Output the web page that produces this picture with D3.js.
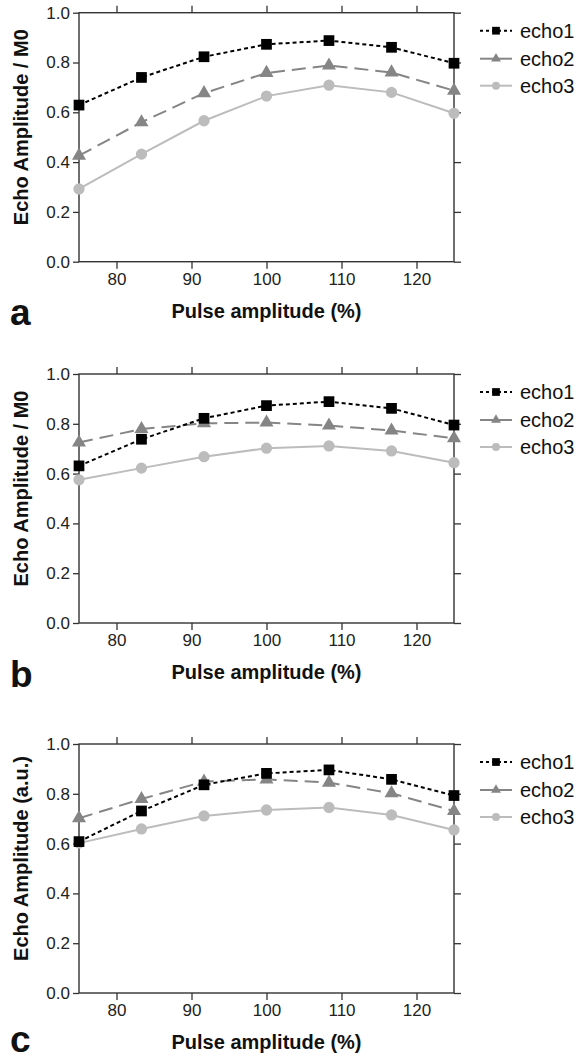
<!DOCTYPE html>
<html>
<head>
<meta charset="utf-8">
<script src="https://cdn.jsdelivr.net/npm/d3@7"></script>
<style>
  body { margin: 0; background: #fff; }
  svg { display: block; font-family: "Liberation Sans", Arial, Helvetica, sans-serif; }
</style>
</head>
<body>
<svg id="chart" width="580" height="1059"></svg>
<script>
// pulse amplitude (%)
var pulse = [75, 83.33, 91.67, 100, 108.33, 116.67, 125];
var xTicks = [80, 90, 100, 110, 120];
var yTicks = [0, 0.2, 0.4, 0.6, 0.8, 1.0];
var seriesNames = ['echo1', 'echo2', 'echo3'];

// panel a
var echo1A = [0.629, 0.740, 0.823, 0.873, 0.888, 0.861, 0.797];
var echo2A = [0.426, 0.560, 0.677, 0.758, 0.788, 0.760, 0.687];
var echo3A = [0.292, 0.432, 0.566, 0.665, 0.709, 0.680, 0.596];
// panel b
var echo1B = [0.631, 0.738, 0.822, 0.873, 0.889, 0.862, 0.795];
var echo2B = [0.725, 0.779, 0.802, 0.805, 0.793, 0.773, 0.742];
var echo3B = [0.575, 0.622, 0.668, 0.702, 0.711, 0.691, 0.644];
// panel c
var echo1C = [0.608, 0.731, 0.836, 0.882, 0.896, 0.858, 0.793];
var echo2C = [0.702, 0.779, 0.849, 0.858, 0.845, 0.802, 0.731];
var echo3C = [0.602, 0.659, 0.711, 0.735, 0.745, 0.715, 0.655];

var panels = [
  { letter: 'a', top: 12.7, letterDy: 63, ytitle: 'Echo Amplitude / M0', series: [echo1A, echo2A, echo3A] },
  { letter: 'b', top: 374, letterDy: 64, ytitle: 'Echo Amplitude / M0', series: [echo1B, echo2B, echo3B] },
  { letter: 'c', top: 744, letterDy: 59, ytitle: 'Echo Amplitude (a.u.)', series: [echo1C, echo2C, echo3C] }
];

var styles = [
  { color: '#000', dash: '4,3', marker: d3.symbolSquare, size: 115, lsize: 60 },
  { color: '#858585', dash: '14,7', marker: d3.symbolTriangle, size: 85, lsize: 42 },
  { color: '#bcbcbc', dash: null, marker: d3.symbolCircle, size: 100, lsize: 50 }
];

var left = 79, right = 454, plotH = 249;
var frameColor = '#333';
var svg = d3.select('#chart');

var x = d3.scaleLinear().domain([75, 125]).range([left, right]);

panels.forEach(function(p) {
  var y = d3.scaleLinear().domain([0, 1]).range([p.top + plotH, p.top]);
  var g = svg.append('g');

  // axes, ticks outward on all four sides
  var bottom = g.append('g').attr('transform', 'translate(0,' + (p.top + plotH) + ')')
    .call(d3.axisBottom(x).tickValues(xTicks).tickSize(7).tickSizeOuter(0).tickPadding(4));
  var top = g.append('g').attr('transform', 'translate(0,' + p.top + ')')
    .call(d3.axisTop(x).tickValues(xTicks).tickSize(7).tickSizeOuter(0).tickFormat(''));
  var lft = g.append('g').attr('transform', 'translate(' + left + ',0)')
    .call(d3.axisLeft(y).tickValues(yTicks).tickSize(6).tickSizeOuter(0).tickPadding(3).tickFormat(d3.format('.1f')));
  var rgt = g.append('g').attr('transform', 'translate(' + right + ',0)')
    .call(d3.axisRight(y).tickValues(yTicks).tickSize(7).tickSizeOuter(0).tickFormat(''));

  [bottom, top, lft, rgt].forEach(function(a) {
    a.select('.domain').remove();
    a.selectAll('line').attr('stroke', frameColor).attr('stroke-width', 1.3);
    a.selectAll('text').attr('font-size', 17).attr('fill', '#222')
      .attr('font-family', '"Liberation Sans", Arial, sans-serif');
  });

  g.append('rect')
    .attr('x', left).attr('y', p.top)
    .attr('width', right - left).attr('height', plotH)
    .attr('fill', 'none').attr('stroke', frameColor).attr('stroke-width', 1.4);

  // titles
  g.append('text')
    .attr('x', (left + right) / 2).attr('y', p.top + plotH + 56)
    .attr('text-anchor', 'middle').attr('font-size', 20).attr('font-weight', 'bold')
    .attr('fill', '#111')
    .text('Pulse amplitude (%)');

  var cy = p.top + plotH / 2 - 10;
  g.append('text')
    .attr('transform', 'translate(28,' + cy + ') rotate(-90)')
    .attr('text-anchor', 'middle').attr('font-size', 20).attr('font-weight', 'bold')
    .attr('fill', '#111')
    .text(p.ytitle);

  g.append('text')
    .attr('x', 10).attr('y', p.top + plotH + p.letterDy)
    .attr('font-size', 37).attr('font-weight', 'bold').attr('fill', '#111')
    .text(p.letter);

  // series, drawn echo3 first so echo1 sits on top
  var line = d3.line().x(function(d) { return x(d[0]); }).y(function(d) { return y(d[1]); });
  for (var i = 2; i >= 0; i--) {
    var s = styles[i];
    var pts = pulse.map(function(v, k) { return [v, p.series[i][k]]; });
    g.append('path').datum(pts)
      .attr('d', line).attr('fill', 'none')
      .attr('stroke', s.color).attr('stroke-width', 2)
      .attr('stroke-dasharray', s.dash);
    g.selectAll(null).data(pts).enter().append('path')
      .attr('d', d3.symbol().type(s.marker).size(s.size))
      .attr('transform', function(d) { return 'translate(' + x(d[0]) + ',' + y(d[1]) + ')'; })
      .attr('fill', s.color);
  }

  // legend
  var rows = [18, 46, 73];
  seriesNames.forEach(function(name, i) {
    var s = styles[i];
    var ly = p.top + rows[i];
    g.append('line')
      .attr('x1', 480).attr('x2', 512).attr('y1', ly).attr('y2', ly)
      .attr('stroke', s.color).attr('stroke-width', 2)
      .attr('stroke-dasharray', i === 0 ? '3,3' : null);
    g.append('path')
      .attr('d', d3.symbol().type(s.marker).size(s.lsize))
      .attr('transform', 'translate(496,' + ly + ')')
      .attr('fill', s.color);
    g.append('text')
      .attr('x', 520).attr('y', ly + 7)
      .attr('font-size', 20).attr('fill', '#111')
      .text(name);
  });
});
</script>
</body>
</html>
